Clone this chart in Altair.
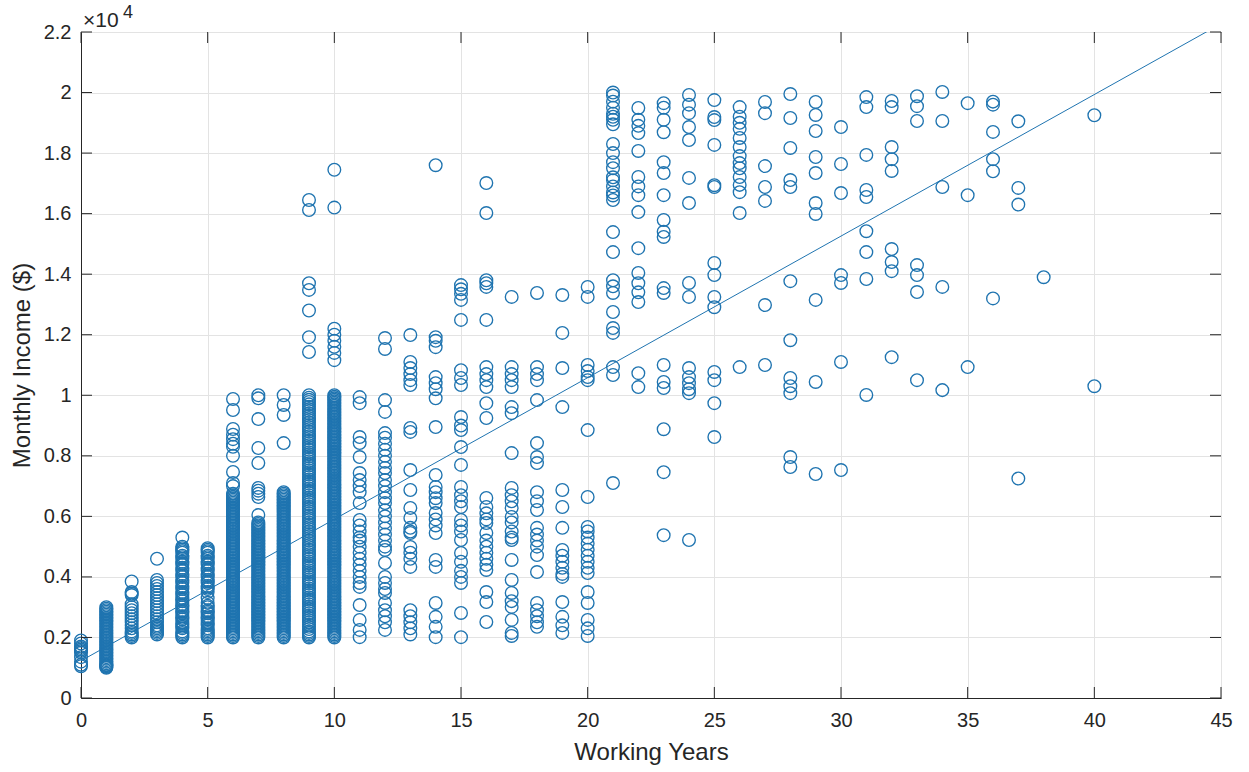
import altair as alt
import pandas as pd

# ---------------- data ----------------
inc_00 = [1050, 1100, 1200, 1350, 1500, 1550, 1600, 1650, 1700, 1800, 1900]
inc_01 = [1000, 1020, 1050, 1080, 1100, 1150, 1200, 1250, 1300, 1350, 1400, 1450, 1500, 1550,
          1600, 1650, 1700, 1750, 1800, 1850, 1900, 1950, 2000, 2050, 2100, 2150, 2200, 2250,
          2300, 2350, 2400, 2450, 2500, 2550, 2600, 2650, 2700, 2750, 2800, 2850, 2900, 2950, 3000]
inc_02 = [2000, 2050, 2100, 2150, 2200, 2300, 2400, 2500, 2600, 2700, 2800, 2900, 3000, 3100,
          3400, 3450, 3500, 3850]
inc_03 = [2100, 2150, 2200, 2250, 2300, 2350, 2400, 2500, 2600, 2700, 2800, 2900, 3000, 3100,
          3200, 3300, 3400, 3500, 3600, 3700, 3800, 3900, 4600]
inc_04 = [2000, 2050, 2100, 2200, 2300, 2350, 2400, 2500, 2600, 2700, 2800, 2900, 3000, 3100,
          3200, 3300, 3400, 3500, 3600, 3700, 3800, 3900, 4000, 4100, 4200, 4300, 4400, 4500,
          4600, 4700, 4800, 4900, 5000, 5300,
          2150, 2450, 2650, 2850, 3050, 3250, 3450, 3650, 3850, 4050, 4250, 4450, 4650, 4850, 4950]
inc_05 = [2000, 2050, 2100, 2200, 2300, 2400, 2500, 2600, 2700, 2800, 2900, 3000, 3150, 3300,
          3500, 3600, 3700, 3800, 3900, 4000, 4100, 4200, 4300, 4400, 4500, 4600, 4700, 4800,
          4900, 4950,
          2150, 2250, 2450, 2650, 2850, 3050, 3650, 3850, 4050, 4250, 4450, 4650, 4850]
inc_06 = [2000, 2050, 2100, 2200, 2300, 2400, 2500, 2600, 2700, 2800, 2900, 3000, 3100, 3200,
          3300, 3400, 3500, 3600, 3700, 3800, 3900, 4000, 4100, 4200, 4300, 4400, 4500, 4600,
          4700, 4800, 4900, 5000, 5100, 5200, 5300, 5400, 5500, 5600, 5700, 5800, 5900, 6000,
          6100, 6200, 6300, 6400, 6500, 6600, 6700, 7000, 7100, 7465, 8000, 8300, 8400, 8550,
          8700, 8885, 9513, 9876]
inc_06b = [2150, 2250, 2350, 2450, 2550, 2650, 2750, 2850, 2950, 3050, 3150, 3250, 3350, 3450,
           3550, 3650, 3750, 3850, 3950, 4050, 4150, 4250, 4350, 4450, 4550, 4650, 4750, 4850,
           4950, 5050, 5150, 5250, 5350, 5450, 5550, 5650, 5750, 5850, 5950, 6050, 6150, 6250,
           6350, 6450, 6550, 6650, 6750]
inc_07 = [2000, 2050, 2100, 2200, 2300, 2400, 2500, 2600, 2700, 2800, 2900, 3000, 3100, 3200,
          3300, 3400, 3500, 3600, 3700, 3800, 3900, 4000, 4100, 4200, 4300, 4400, 4500, 4600,
          4700, 4800, 4900, 5000, 5100, 5200, 5300, 5400, 5500, 5600, 5700, 5800, 6044, 6640,
          6750, 6850, 6940, 7762, 8258, 9215, 9900, 10000]
inc_07b = [2150, 2250, 2350, 2450, 2550, 2650, 2750, 2850, 2950, 3050, 3150, 3250, 3350, 3450,
           3550, 3650, 3750, 3850, 3950, 4050, 4150, 4250, 4350, 4450, 4550, 4650, 4750, 4850,
           4950, 5050, 5150, 5250, 5350, 5450, 5550, 5650, 5750]
inc_08 = [2000, 2050, 2100, 2200, 2300, 2400, 2500, 2600, 2700, 2800, 2900, 3000, 3100, 3200,
          3300, 3400, 3500, 3600, 3700, 3800, 3900, 4000, 4100, 4200, 4300, 4400, 4500, 4600,
          4700, 4800, 4900, 5000, 5100, 5200, 5300, 5400, 5500, 5600, 5700, 5800, 5900, 6000,
          6100, 6200, 6300, 6400, 6500, 6600, 6700, 6800, 8420, 9350, 9680, 10000]
inc_08b = [2150, 2250, 2350, 2450, 2550, 2650, 2750, 2850, 2950, 3050, 3150, 3250, 3350, 3450,
           3550, 3650, 3750, 3850, 3950, 4050, 4150, 4250, 4350, 4450, 4550, 4650, 4750, 4850,
           4950, 5050, 5150, 5250, 5350, 5450, 5550, 5650, 5750, 5850, 5950, 6050, 6150, 6250,
           6350, 6450, 6550, 6650, 6750]
inc_09 = [2000, 2100, 2200, 2350, 2500, 2650, 2800, 2950, 3100, 3250, 3400, 3550, 3700, 3850,
          4000, 4150, 4300, 4450, 4600, 4750, 4900, 5050, 5200, 5350, 5500, 5650, 5800, 5950,
          6100, 6250, 6400, 6550, 6700, 6850, 7000, 7150, 7300, 7450, 7600, 7750, 7900, 8050,
          8200, 8350, 8500, 8650, 8800, 8950, 9100, 9250, 9400, 9550, 9700, 9850, 10000,
          11430, 11920, 12800, 13480, 13700, 16120, 16450]
inc_09b = [2050, 2150, 2280, 2420, 2580, 2720, 2880, 3020, 3180, 3320, 3480, 3620, 3780, 3920,
           4080, 4220, 4380, 4520, 4680, 4820, 4980, 5120, 5280, 5420, 5580, 5720, 5880, 6020,
           6180, 6320, 6480, 6620, 6780, 6920, 7080, 7220, 7380, 7520, 7680, 7820, 7980, 8120,
           8280, 8420, 8580, 8720, 8880, 9020, 9180, 9320, 9480, 9620, 9780, 9920]
inc_10 = [2000, 2100, 2200, 2350, 2500, 2650, 2800, 2950, 3100, 3250, 3400, 3550, 3700, 3850,
          4000, 4150, 4300, 4450, 4600, 4750, 4900, 5050, 5200, 5350, 5500, 5650, 5800, 5950,
          6100, 6250, 6400, 6550, 6700, 6850, 7000, 7150, 7300, 7450, 7600, 7750, 7900, 8050,
          8200, 8350, 8500, 8650, 8800, 8950, 9100, 9250, 9400, 9550, 9700, 9850, 10000,
          11160, 11400, 11600, 11800, 12000, 12200, 16200, 17450]
inc_10b = [2050, 2150, 2250, 2300, 2400, 2450, 2550, 2600, 2700, 2750, 2850, 2900, 3000, 3050,
           3150, 3200, 3300, 3350, 3450, 3500, 3600, 3650, 3750, 3800, 3900, 3950, 4050, 4100,
           4200, 4250, 4350, 4400, 4500, 4550, 4650, 4700, 4800, 4850, 4950, 5000, 5100, 5150,
           5250, 5300, 5400, 5450, 5550, 5600, 5700, 5750, 5850, 5900, 6000, 6050, 6150, 6200,
           6300, 6350, 6450, 6500, 6600, 6650, 6750, 6800, 6900, 6950, 7050, 7100, 7200, 7250,
           7350, 7400, 7500, 7550, 7650, 7700, 7800, 7850, 7950, 8000, 8100, 8150, 8250, 8300,
           8400, 8450, 8550, 8600, 8700, 8750, 8850, 8900, 9000, 9050, 9150, 9200, 9300, 9350,
           9450, 9500, 9600, 9650, 9750, 9800, 9900, 9950]
inc_11 = [9940, 9740, 8620, 8420, 7960, 7430, 7200, 7000, 6800, 6440, 5880, 5700, 5500, 5300,
          5200, 5000, 4800, 4600, 4400, 4200, 4000, 3800, 3670, 3070, 2580, 2250, 2010]
inc_12 = [11890, 11530, 9840, 9450, 8750, 8600, 8400, 8200, 8000, 7800, 7600, 7430, 7200, 7000,
          6800, 6600, 6440, 6200, 6000, 5800, 5600, 5400, 5200, 5000, 4890, 4460, 4000, 3800,
          3600, 3470, 3140, 2900, 2700, 2500, 2250]
inc_13 = [11990, 11100, 10900, 10700, 10500, 10340, 8920, 8790, 7530, 6870, 6280, 5950, 5620,
          5500, 5450, 4990, 4800, 4600, 4330, 2900, 2700, 2500, 2300, 2100]
inc_14 = [17600, 11920, 11800, 11590, 10600, 10400, 10200, 9900, 8950, 7370, 6970, 6800, 6600,
          6440, 6110, 5900, 5700, 5450, 4560, 4330, 3140, 2680, 2350, 2010]
inc_15 = [13640, 13500, 13350, 13150, 12490, 10830, 10570, 10340, 9280, 9000, 8850, 8290, 7700,
          6970, 6700, 6500, 6310, 5880, 5700, 5500, 5220, 4790, 4500, 4200, 4000, 3800, 2810, 2010]
inc_16 = [17010, 16020, 13800, 13700, 13580, 12490, 10930, 10700, 10500, 10270, 9740, 9250, 6610,
          6310, 6100, 5900, 5780, 5450, 5200, 5000, 4800, 4600, 4400, 4230, 3500, 3170, 2510]
inc_17 = [13250, 10930, 10700, 10500, 10270, 9610, 9410, 8090, 6940, 6700, 6500, 6280, 5980,
          5800, 5500, 5300, 5220, 4560, 3900, 3470, 3200, 3010, 2580, 2150, 2050]
inc_18 = [13380, 10930, 10700, 10500, 9840, 8420, 7960, 7760, 6800, 6500, 6210, 5620, 5400, 5200,
          5000, 4720, 4160, 3140, 2900, 2700, 2500, 2350]
inc_19 = [13310, 12060, 10900, 9610, 6870, 6310, 5620, 4890, 4700, 4500, 4300, 4100, 4000, 3170,
          2680, 2400, 2150]
inc_20 = [13580, 13250, 11000, 10800, 10600, 10500, 8850, 6640, 5650, 5500, 5300, 5100, 4900,
          4700, 4500, 4300, 4130, 3500, 3140, 2580, 2300, 2050]
inc_21 = [20000, 19900, 19700, 19500, 19300, 19200, 19100, 18950, 18300, 18000, 17700, 17500,
          17200, 17100, 16900, 16700, 16600, 16450, 15390, 14730, 13800, 13600, 13380, 12750,
          12220, 12060, 10930, 10670, 7100]
inc_22 = [19490, 19100, 18900, 18660, 18070, 17210, 16900, 16610, 16050, 14860, 14040, 13700,
          13400, 13080, 10730, 10270]
inc_23 = [19650, 19500, 19100, 18690, 17700, 17340, 16610, 15790, 15400, 15230, 13540, 13380,
          11000, 10440, 10240, 8880, 7460, 5380]
inc_24 = [19920, 19600, 19320, 18860, 18430, 17180, 16350, 13710, 13250, 10900, 10600, 10400,
          10200, 10070, 5220]
inc_25 = [19750, 19190, 19090, 18270, 16940, 16880, 14370, 13970, 13250, 12910, 10770, 10500,
          9740, 8620]
inc_26 = [19520, 19200, 19000, 18800, 18500, 18200, 17900, 17670, 17500, 17210, 16950, 16710,
          16020, 10930]
inc_27 = [19690, 19320, 17570, 16880, 16420, 12980, 11000]
inc_28 = [19950, 19160, 18170, 17110, 16880, 13770, 11820, 10570, 10300, 10070, 7960, 7630]
inc_29 = [19690, 19260, 18730, 17870, 17340, 16350, 15990, 13150, 10440, 7400]
inc_30 = [18860, 17640, 16680, 13970, 13710, 11100, 7530]
inc_31 = [19850, 19520, 17940, 16780, 16550, 15420, 14730, 13840, 10010]
inc_32 = [19720, 19520, 18200, 17800, 17410, 14830, 14400, 14100, 11260]
inc_33 = [19880, 19550, 19060, 14300, 13970, 13410, 10500]
inc_34 = [20020, 19060, 16880, 13580, 10170]
inc_35 = [19650, 16610, 10930]
inc_36 = [19700, 19600, 18700, 17800, 17400, 13200]
inc_37 = [19050, 16850, 16300, 7250]
inc_38 = [13900]
inc_40 = [19250, 10300]

years = [0, 1, 2, 3, 4, 5, 6, 6, 7, 7, 8, 8, 9, 9, 10, 10, 11, 12, 13, 14, 15, 16, 17, 18,
         19, 20, 21, 22, 23, 24, 25, 26, 27, 28, 29, 30, 31, 32, 33, 34, 35, 36, 37, 38, 40]
incomes = [inc_00, inc_01, inc_02, inc_03, inc_04, inc_05, inc_06, inc_06b, inc_07, inc_07b,
           inc_08, inc_08b, inc_09, inc_09b, inc_10, inc_10b, inc_11, inc_12, inc_13, inc_14,
           inc_15, inc_16, inc_17, inc_18, inc_19, inc_20, inc_21, inc_22, inc_23, inc_24,
           inc_25, inc_26, inc_27, inc_28, inc_29, inc_30, inc_31, inc_32, inc_33, inc_34,
           inc_35, inc_36, inc_37, inc_38, inc_40]

# fitted line end points
fit_x = [0, 45]
fit_y = [1228, 22273]

x_ticks = [0, 5, 10, 15, 20, 25, 30, 35, 40, 45]
y_ticks = [0, 2000, 4000, 6000, 8000, 10000, 12000, 14000, 16000, 18000, 20000, 22000]

# ---------------- tables ----------------
rows = []
for yr, vals in zip(years, incomes):
    for v in vals:
        rows.append({"years": yr, "income": v})
pts = pd.DataFrame(rows)
fit = pd.DataFrame({"years": fit_x, "income": fit_y})
xt = pd.DataFrame({"years": x_ticks})
yt = pd.DataFrame({"income": y_ticks})

W, H = 1140, 666
BLUE = "#1f74b0"
AX = "#262626"
FONT = "Liberation Sans"

xs = alt.Scale(domain=[0, 45], nice=False, zero=False)
ys = alt.Scale(domain=[0, 22000], nice=False, zero=False)

ax_x = alt.Axis(
    title="Working Years", values=x_ticks, grid=True, ticks=False,
    labelFlush=False, labelOverlap=False,
    labelPadding=12, labelFontSize=20, titleFontSize=24, titlePadding=10,
    labelFont=FONT, titleFont=FONT, labelColor=AX, titleColor=AX,
    domainColor=AX, domainWidth=1, gridColor="#e3e3e3", gridWidth=1,
    labelFontWeight="normal", titleFontWeight="normal")
ax_y = alt.Axis(
    title="Monthly  Income ($)", values=y_ticks, grid=True, ticks=False,
    labelFlush=False, labelOverlap=False,
    labelExpr="datum.value == 0 ? '0' : format(datum.value / 10000, '.1~f')",
    labelPadding=10, labelFontSize=20, titleFontSize=24, titlePadding=9,
    labelFont=FONT, titleFont=FONT, labelColor=AX, titleColor=AX,
    domainColor=AX, domainWidth=1, gridColor="#e3e3e3", gridWidth=1,
    labelFontWeight="normal", titleFontWeight="normal")

X = alt.X("years:Q", scale=xs, axis=ax_x)
Y = alt.Y("income:Q", scale=ys, axis=ax_y)

points = alt.Chart(pts).mark_point(
    shape="circle", filled=False, size=160, strokeWidth=1.35, color=BLUE, opacity=1
).encode(x=X, y=Y)

line = alt.Chart(fit).mark_line(color=BLUE, strokeWidth=1, clip=True).encode(x=X, y=Y)

TL = 11
tick_bottom = alt.Chart(xt).mark_rule(color=AX, strokeWidth=1).encode(
    x=X, y=alt.value(H), y2=alt.value(H - TL))
tick_top = alt.Chart(xt).mark_rule(color=AX, strokeWidth=1).encode(
    x=X, y=alt.value(0), y2=alt.value(TL))
tick_left = alt.Chart(yt).mark_rule(color=AX, strokeWidth=1).encode(
    y=Y, x=alt.value(0), x2=alt.value(TL))
tick_right = alt.Chart(yt).mark_rule(color=AX, strokeWidth=1).encode(
    y=Y, x=alt.value(W), x2=alt.value(W - TL))

exp_base = alt.Chart(pd.DataFrame({"s": ["\u00d710"]})).mark_text(
    align="left", baseline="alphabetic", fontSize=21, font=FONT, color=AX
).encode(text="s:N", x=alt.value(2), y=alt.value(-5))
exp_pow = alt.Chart(pd.DataFrame({"s": ["4"]})).mark_text(
    align="left", baseline="alphabetic", fontSize=18, font=FONT, color=AX
).encode(text="s:N", x=alt.value(42), y=alt.value(-14))

chart = alt.layer(
    points, line, tick_bottom, tick_top, tick_left, tick_right, exp_base, exp_pow
).properties(
    width=W, height=H,
    autosize=alt.AutoSizeParams(type="none"),
    padding={"left": 81, "top": 32, "right": 28, "bottom": 74},
    background="white",
).configure_view(stroke=AX, strokeWidth=1)

chart.save("out.html", embed_options={"renderer": "svg", "actions": False})
